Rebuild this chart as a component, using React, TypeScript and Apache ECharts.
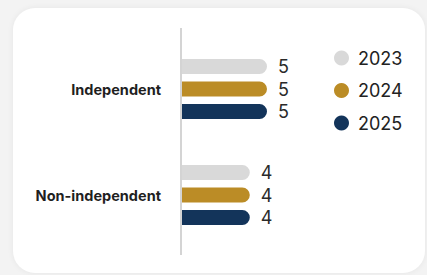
import React, { useEffect, useRef } from "react";
import * as echarts from "echarts";

const categories = ["Independent", "Non-independent"];
const years = ["2023", "2024", "2025"];
const values2023 = [5, 4];
const values2024 = [5, 4];
const values2025 = [5, 4];
const colors = ["#d9d9d9", "#bb8c26", "#13345a"];

export default function App() {
  const ref = useRef<HTMLDivElement>(null);
  useEffect(() => {
    if (!ref.current) return;
    const chart = echarts.init(ref.current, null, { renderer: "svg" });
    const seriesData = [values2023, values2024, values2025];
    chart.setOption({
      animation: false,
      legend: {
        orient: "vertical",
        left: 334,
        top: 49,
        padding: 0,
        icon: "circle",
        itemWidth: 15,
        itemHeight: 15,
        itemGap: 14.5,
        data: years,
        textStyle: {
          fontFamily: "Inter",
          fontSize: 18,
          color: "#222",
          padding: [0, 0, 0, 4],
        },
      },
      grid: { left: 181, top: 36, width: 172, height: 212, containLabel: false },
      xAxis: {
        type: "value",
        min: 0,
        max: 10,
        show: false,
      },
      yAxis: {
        type: "category",
        inverse: true,
        data: categories,
        axisLine: { show: false },
        axisTick: { show: false },
        splitLine: { show: false },
        axisLabel: {
          margin: 20,
          fontFamily: "Inter",
          fontWeight: "bold",
          fontSize: 14.5,
          color: "#1f1f1f",
        },
      },
      graphic: [
        {
          type: "line",
          shape: { x1: 181, y1: 28, x2: 181, y2: 255 },
          style: { stroke: "#d4d4d4", lineWidth: 2 },
          z: 10,
        },
      ],
      series: years.map((y, i) => ({
        name: y,
        type: "bar",
        data: seriesData[i],
        barWidth: 15,
        barGap: "50%",
        itemStyle: { color: colors[i], borderRadius: [0, 7.5, 7.5, 0] },
        label: {
          show: true,
          position: "right",
          distance: 11,
          fontFamily: "Inter",
          fontSize: 18,
          color: "#2a2a2a",
        },
      })),
    });
    return () => chart.dispose();
  }, []);
  return (
    <div style={{ position: "absolute", left: 0, top: 0, width: 427, height: 275, background: "#f3f3f3", overflow: "hidden" }}>
      <div
        style={{
          position: "absolute",
          left: 13,
          top: 8,
          width: 412,
          height: 265,
          background: "#ffffff",
          borderRadius: 22,
          boxShadow: "0 0 6px rgba(0,0,0,0.06)",
        }}
      />
      <div ref={ref} style={{ position: "absolute", left: 0, top: 0, width: 427, height: 275 }} />
    </div>
  );
}
